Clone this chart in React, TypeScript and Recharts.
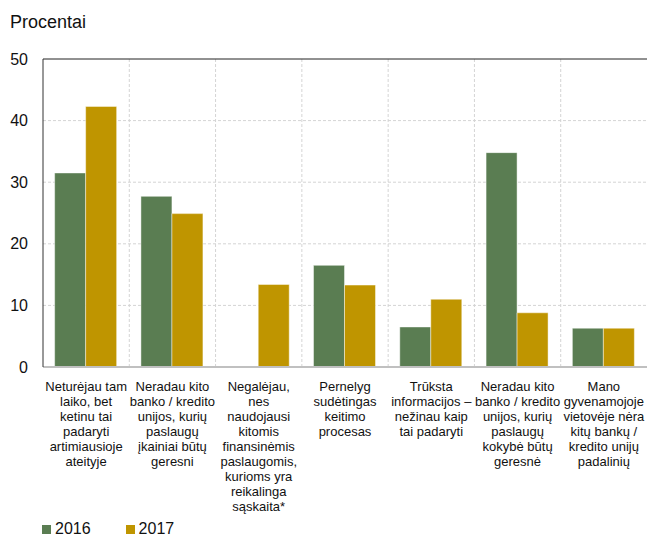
import { BarChart, Bar, XAxis, YAxis, CartesianGrid, Legend, ReferenceLine } from 'recharts';

const categories = [
  'Neturėjau tam|laiko, bet|ketinu tai|padaryti|artimiausioje|ateityje',
  'Neradau kito|banko / kredito|unijos, kurių|paslaugų|įkainiai būtų|geresni',
  'Negalėjau,|nes|naudojausi|kitomis|finansinėmis|paslaugomis,|kurioms yra|reikalinga|sąskaita*',
  'Pernelyg|sudėtingas|keitimo|procesas',
  'Trūksta|informacijos –|nežinau kaip|tai padaryti',
  'Neradau kito|banko / kredito|unijos, kurių|paslaugų|kokybė būtų|geresnė',
  'Mano|gyvenamojoje|vietovėje nėra|kitų bankų /|kredito unijų|padalinių',
];
const values2016 = [31.5, 27.7, 0, 16.5, 6.5, 34.8, 6.3];
const values2017 = [42.3, 24.9, 13.4, 13.3, 11.0, 8.8, 6.3];
const yTicks = [0, 10, 20, 30, 40, 50];

const GREEN = '#5a7d52';
const GOLD = '#bf9500';
const FONT = 'Arial, "Liberation Sans", sans-serif';

const data = categories.map((c, i) => ({ name: c, y2016: values2016[i], y2017: values2017[i] }));

const CategoryTick = ({ x, y, payload }: any) => {
  const lines = String(payload.value).split('|');
  return (
    <text x={x} y={y} textAnchor="middle" fontSize={13} fill="#111" fontFamily={FONT}>
      {lines.map((l, i) => (
        <tspan key={i} x={x} y={y + 16 + i * 15}>{l}</tspan>
      ))}
    </text>
  );
};

const LegendContent = () => (
  <div style={{ height: 34, display: 'flex', alignItems: 'flex-end', paddingLeft: 42, fontFamily: FONT, fontSize: 16, lineHeight: '18px', color: '#111' }}>
    <span style={{ display: 'flex', alignItems: 'center' }}>
      <span style={{ width: 9, height: 9, background: GREEN, display: 'inline-block', marginRight: 4 }} />
      <span style={{ marginRight: 35 }}>2016</span>
      <span style={{ width: 9, height: 9, background: GOLD, display: 'inline-block', marginRight: 4 }} />
      <span>2017</span>
    </span>
  </div>
);

export default function App() {
  return (
    <div style={{ position: 'absolute', left: 0, top: 0, width: 647, height: 538, background: '#fff' }}>
      <div style={{ position: 'absolute', left: 10, top: 12, fontFamily: FONT, fontSize: 18, color: '#111' }}>Procentai</div>
      <BarChart
        width={647}
        height={538}
        data={data}
        margin={{ top: 59, right: 0, bottom: 0, left: 0 }}
        barCategoryGap="13.5%"
        barGap={0}
      >
        <CartesianGrid
          stroke="#d4d4d4"
          strokeDasharray="3 2"
          horizontalValues={[10, 20, 30, 40]}
          verticalCoordinatesGenerator={({ offset }: any) =>
            categories.slice(1).map((_, i) => offset.left + ((i + 1) * offset.width) / categories.length)
          }
        />
        <XAxis
          dataKey="name"
          interval={0}
          height={137}
          tick={<CategoryTick />}
          tickLine={false}
          axisLine={{ stroke: '#c0c0c0', strokeWidth: 2 }}
        />
        <YAxis
          domain={[0, 50]}
          ticks={yTicks}
          width={43}
          tickLine={false}
          tickMargin={9}
          axisLine={{ stroke: '#333' }}
          tick={{ fontSize: 16, fill: '#111', fontFamily: FONT }}
        />
        <ReferenceLine y={50} stroke="#222" strokeWidth={1} />
        <Bar dataKey="y2016" fill={GREEN} stroke="#ffffff" strokeOpacity={0.45} isAnimationActive={false} />
        <Bar dataKey="y2017" fill={GOLD} stroke="#ffffff" strokeOpacity={0.45} isAnimationActive={false} />
        <Legend verticalAlign="bottom" content={<LegendContent />} />
      </BarChart>
    </div>
  );
}
